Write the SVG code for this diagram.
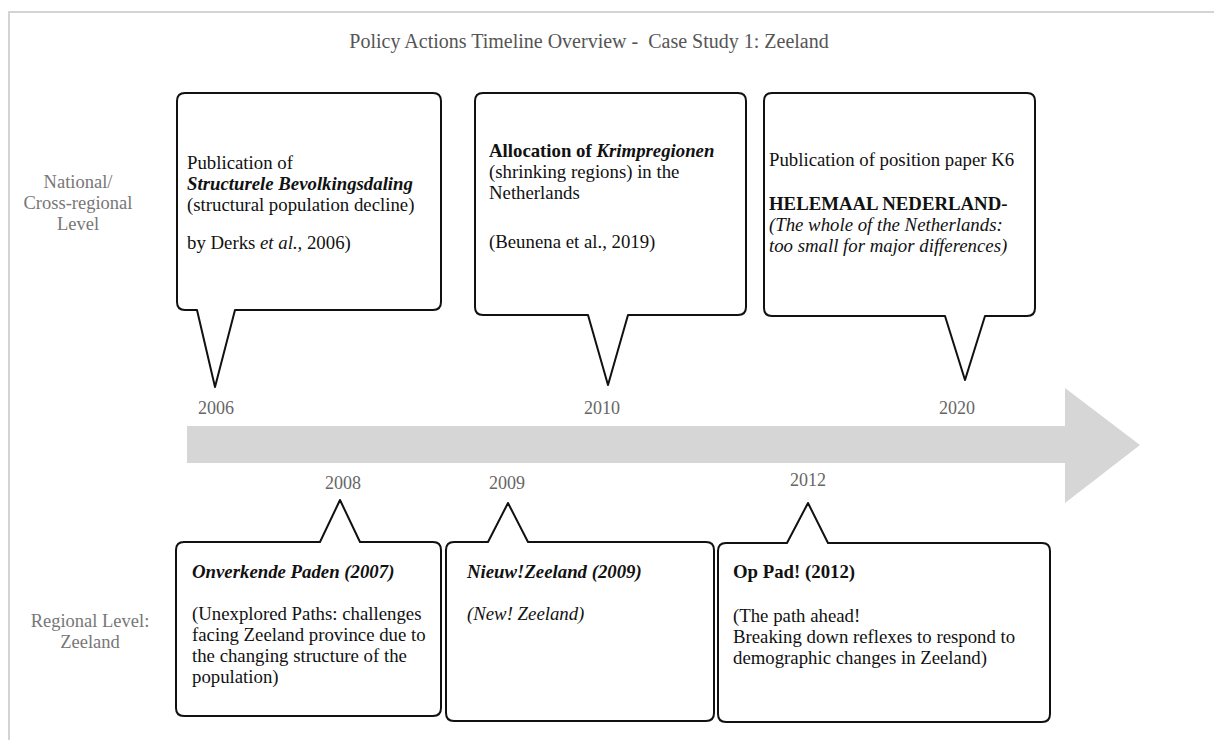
<svg xmlns="http://www.w3.org/2000/svg" width="1214" height="740" viewBox="0 0 1214 740">
  <style>
    text { font-family: "Liberation Serif", "Times New Roman", serif; font-size: 18.8px; fill: #111; }
    .title { fill: #555; font-size: 20px; text-anchor: middle; }
    .level { fill: #777; font-size: 18.5px; text-anchor: middle; }
    .year { fill: #666; font-size: 18px; text-anchor: middle; }
    .bubble { fill: #fff; stroke: #111; stroke-width: 2; stroke-linejoin: round; }
    .b { font-weight: bold; }
    .i { font-style: italic; }
    .frame { stroke: #d4d4d4; stroke-width: 2; fill: none; }
  </style>

  <rect width="1214" height="740" fill="#fff"/>
  <!-- page frame (top and left edges) -->
  <path class="frame" d="M9 740 V12 H1214"/>

  <text class="title" x="589" y="48" xml:space="preserve">Policy Actions Timeline Overview -  Case Study 1: Zeeland</text>

  <!-- level labels -->
  <g id="label-national">
    <text class="level" x="78" y="188">National/</text>
    <text class="level" x="78" y="209">Cross-regional</text>
    <text class="level" x="78" y="230">Level</text>
  </g>
  <g id="label-regional">
    <text class="level" x="90" y="627">Regional Level:</text>
    <text class="level" x="90" y="648">Zeeland</text>
  </g>

  <!-- timeline arrow -->
  <g id="connectors">
    <path id="timeline" d="M187 426 H1065 V388 L1140 445 L1065 503 V463 H187 Z" fill="#d6d6d6"/>
  </g>

  <!-- year labels -->
  <g id="years">
    <text class="year" x="216" y="414">2006</text>
    <text class="year" x="602" y="414">2010</text>
    <text class="year" x="957" y="414">2020</text>
    <text class="year" x="343" y="489">2008</text>
    <text class="year" x="507" y="489">2009</text>
    <text class="year" x="808" y="486">2012</text>
  </g>

  <!-- national level callouts -->
  <g id="n2006">
    <path class="bubble" d="M185 93 H433 Q441 93 441 101 V302 Q441 310 433 310 H235 L215 387 L197 310 H185 Q177 310 177 302 V101 Q177 93 185 93 Z"/>
    <text x="187" y="169">Publication of</text>
    <text x="187" y="190" class="b i">Structurele Bevolkingsdaling</text>
    <text x="187" y="211">(structural population decline)</text>
    <text x="187" y="249">by Derks <tspan class="i">et al.,</tspan> 2006)</text>
  </g>

  <g id="n2010">
    <path class="bubble" d="M483 93 H738 Q746 93 746 101 V307 Q746 315 738 315 H628 L608 385 L588 315 H483 Q475 315 475 307 V101 Q475 93 483 93 Z"/>
    <text x="489" y="157"><tspan class="b">Allocation of </tspan><tspan class="b i">Krimpregionen</tspan></text>
    <text x="489" y="178">(shrinking regions) in the</text>
    <text x="489" y="199">Netherlands</text>
    <text x="489" y="248">(Beunena et al., 2019)</text>
  </g>

  <g id="n2020">
    <path class="bubble" d="M772 93 H1027 Q1035 93 1035 101 V308 Q1035 316 1027 316 H985 L965 380 L945 316 H772 Q764 316 764 308 V101 Q764 93 772 93 Z"/>
    <text x="769" y="166">Publication of position paper K6</text>
    <text x="769" y="210" class="b">HELEMAAL NEDERLAND-</text>
    <text x="769" y="231" class="i">(The whole of the Netherlands:</text>
    <text x="769" y="252" class="i">too small for major differences)</text>
  </g>

  <!-- regional level callouts -->
  <g id="r2008">
    <path class="bubble" d="M184 542 H320 L340 500 L360 542 H433 Q441 542 441 550 V708 Q441 716 433 716 H184 Q176 716 176 708 V550 Q176 542 184 542 Z"/>
    <text x="192" y="578" class="b i">Onverkende Paden (2007)</text>
    <text x="192" y="620">(Unexplored Paths: challenges</text>
    <text x="192" y="641">facing Zeeland province due to</text>
    <text x="192" y="662">the changing structure of the</text>
    <text x="192" y="683">population)</text>
  </g>

  <g id="r2009">
    <path class="bubble" d="M454 542 H488 L508 503 L528 542 H706 Q714 542 714 550 V713 Q714 721 706 721 H454 Q446 721 446 713 V550 Q446 542 454 542 Z"/>
    <text x="467" y="578" class="b i">Nieuw!Zeeland (2009)</text>
    <text x="467" y="620" class="i">(New! Zeeland)</text>
  </g>

  <g id="r2012">
    <path class="bubble" d="M726 543 H787 L808 503 L828 543 H1042 Q1050 543 1050 551 V714 Q1050 722 1042 722 H726 Q718 722 718 714 V551 Q718 543 726 543 Z"/>
    <text x="733" y="578" class="b">Op Pad! (2012)</text>
    <text x="733" y="622">(The path ahead!</text>
    <text x="733" y="643">Breaking down reflexes to respond to</text>
    <text x="733" y="664">demographic changes in Zeeland)</text>
  </g>
</svg>
